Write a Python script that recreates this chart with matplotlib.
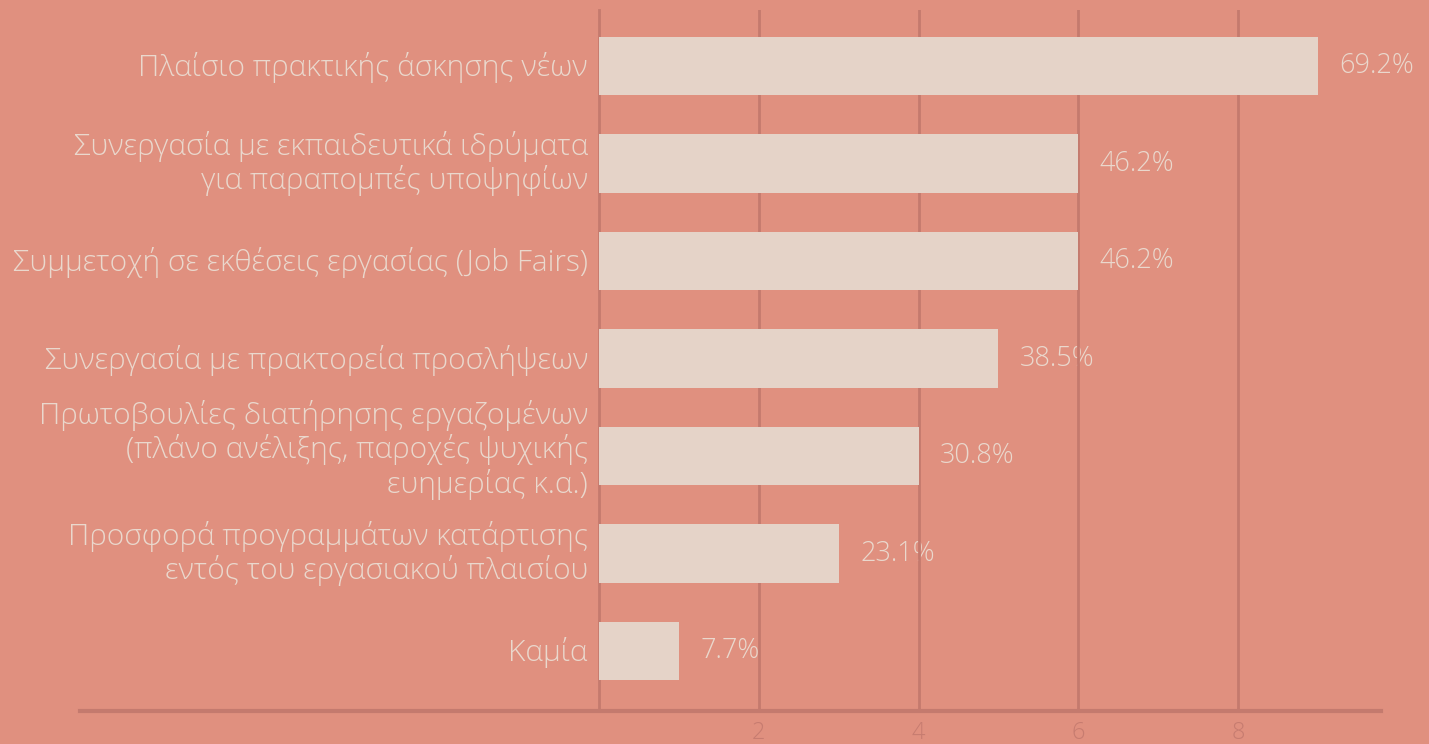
import numpy as np
import matplotlib.pyplot as plt
import matplotlib.transforms as mtransforms

# Data: number of responses (out of 13) and the shown shares
categories = [
    "Πλαίσιο πρακτικής άσκησης νέων",
    "Συνεργασία με εκπαιδευτικά ιδρύματα\nγια παραπομπές υποψηφίων",
    "Συμμετοχή σε εκθέσεις εργασίας (Job Fairs)",
    "Συνεργασία με πρακτορεία προσλήψεων",
    "Πρωτοβουλίες διατήρησης εργαζομένων\n(πλάνο ανέλιξης, παροχές ψυχικής\nευημερίας κ.α.)",
    "Προσφορά προγραμμάτων κατάρτισης\nεντός του εργασιακού πλαισίου",
    "Καμία",
]
counts = [9, 6, 6, 5, 4, 3, 1]
shares = ["69.2%", "46.2%", "46.2%", "38.5%", "30.8%", "23.1%", "7.7%"]
xticks = [2, 4, 6, 8]

# Colours
bg = "#E0907F"
bar_col = "#E5D3C8"
grid_col = "#C47A6E"
text_col = "#EAD8CD"
tick_col = "#C77C70"

plt.rcParams["font.family"] = ["Open Sans", "DejaVu Sans"]

fig = plt.figure(figsize=(14.29, 7.44), dpi=100, facecolor=bg)
ax = fig.add_axes([0.4192, 0.0443, 0.9664 - 0.4192, 0.9422])
ax.set_facecolor(bg)

y = np.arange(len(categories))
ax.barh(y, counts, height=0.6, color=bar_col, zorder=2)

# value labels sit under the grid lines, as in the original
for yi, c, s in zip(y, counts, shares):
    ax.text(c + 0.27, yi, s, va="center", ha="left", color=text_col,
            fontsize=19.5, fontweight="light", zorder=0.3)

ax.set_ylim(6.615, -0.574)
ax.set_xlim(0, 9.79)

ax.set_yticks(y)
ax.set_yticklabels(categories, fontsize=21.5, fontweight="light",
                   color=text_col, linespacing=1.15)
ax.set_xticks(xticks)
ax.set_xticklabels([str(t) for t in xticks], fontsize=17,
                   fontweight="light", color=tick_col)
ax.tick_params(axis="both", length=0)
ax.tick_params(axis="y", pad=8)
ax.tick_params(axis="x", pad=7)

# nudge labels up a little (pixels, by number of lines)
nudge = {0: 2, 1: 5.5, 2: 11.5}
for lab in ax.get_yticklabels():
    n = lab.get_text().count("\n")
    off = mtransforms.ScaledTranslation(0, nudge[n] / fig.dpi, fig.dpi_scale_trans)
    lab.set_transform(lab.get_transform() + off)

ax.set_axisbelow(True)
ax.grid(axis="x", color=grid_col, linewidth=2)
for sp in ["top", "right", "bottom"]:
    ax.spines[sp].set_visible(False)
ax.spines["left"].set_color(grid_col)
ax.spines["left"].set_linewidth(2)
ax.spines["left"].set_zorder(1)

# bottom axis line reaching out under the labels
ax.axhline(6.615, xmin=-0.664, xmax=1, color=grid_col, linewidth=3,
           clip_on=False, zorder=1)

fig.savefig("out.png", dpi=100, facecolor=bg)
